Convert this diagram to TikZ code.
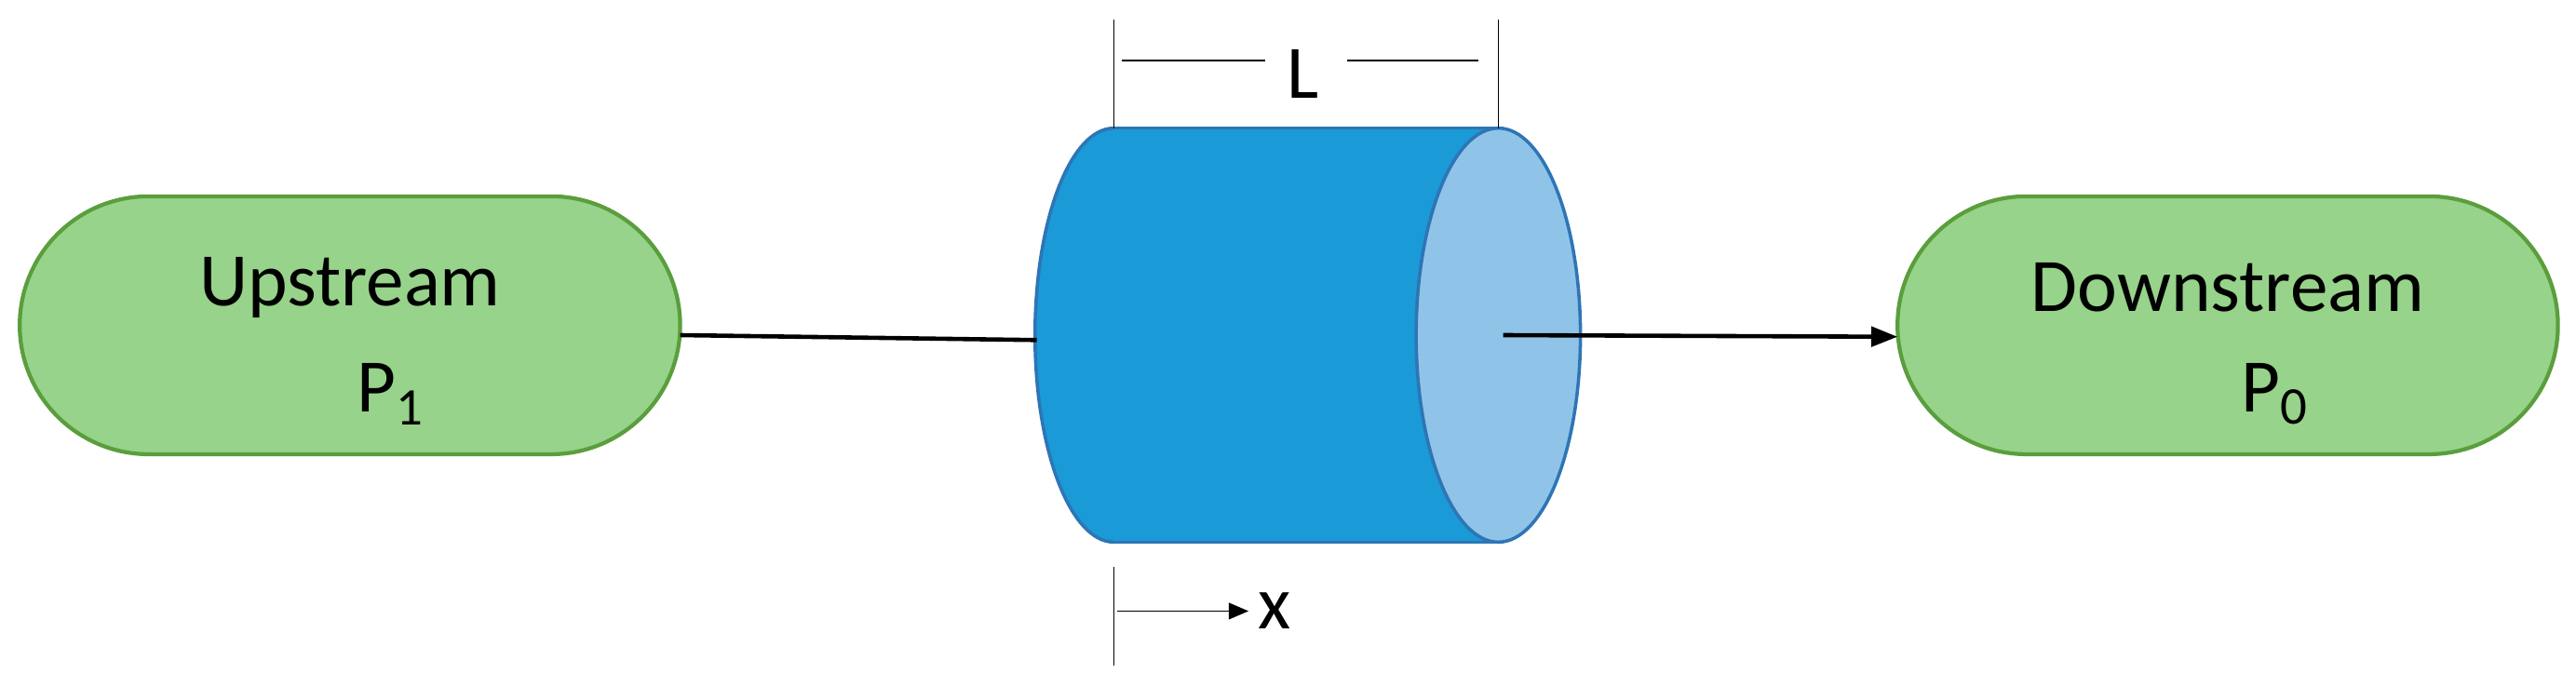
\documentclass[tikz,border=0pt]{standalone}
\usepackage{fontspec}
\setmainfont{Carlito}
\usetikzlibrary{shapes.misc,arrows.meta}
\definecolor{gfill}{HTML}{97D38A}
\definecolor{gline}{HTML}{5A9E3D}
\definecolor{cdark}{HTML}{1A9AD6}
\definecolor{clight}{HTML}{8FC4E8}
\definecolor{cline}{HTML}{2E75B6}
\tikzset{
 stad/.style={rounded rectangle, draw=gline, fill=gfill, line width=1.2pt, minimum width=201pt, minimum height=78.5pt, inner sep=0pt, outer sep=0pt},
 conn/.style={line width=1.3pt, black},
 dim/.style={line width=0.5pt, black},
 lbl/.style={font=\fontsize{23}{28}\selectfont, inner sep=0pt}
}
\begin{document}
\begin{tikzpicture}[x=0.5pt,y=-0.5pt]
\useasboundingbox (0,0) rectangle (1568,418);
\node[stad] (up) at (213,198) {};
\node[stad] (down) at (1356,198) {};
\node[lbl] (upt) at (213,175) {Upstream};
\node[lbl] (up1) at (238,240) {P\textsubscript{1}};
\node[lbl] (dnt) at (1356,175) {Downstream};
\node[lbl] (dn0) at (1385,240) {P\textsubscript{0}};
% cylinder
\fill[cdark] (678,78) -- (912,78) -- (912,330) -- (678,330) arc[start angle=270,end angle=90,x radius=48,y radius=-126] -- cycle;
\draw[cline,line width=1pt] (678,78) -- (912,78);
\draw[cline,line width=1pt] (678,330) -- (912,330);
\draw[cline,line width=1pt] (678,78) arc[start angle=90,end angle=270,x radius=48,y radius=-126];
\draw[cline,line width=1pt,fill=clight] (912,204) ellipse[x radius=50,y radius=126];
\coordinate (cin) at (631,207);
\coordinate (cout) at (915,204);
\draw[conn] (up.east |- 0,204) -- (cin);
\draw[conn,-{Triangle[length=8pt,width=6pt]}] (cout) -- (down.west |- 0,205);
% L dimension
\draw[dim] (678,12) -- (678,78);
\draw[dim] (912,12) -- (912,78);
\draw[dim] (683,37) -- (770,37);
\draw[dim] (820,37) -- (900,37);
\node[lbl] (L) at (793,45) {L};
% x arrow
\draw[dim] (678,345) -- (678,405);
\coordinate (xs) at (680,372);
\coordinate (xe) at (760,372);
\draw[dim,-{Triangle[length=6pt,width=5pt]}] (xs) -- (xe);
\node[lbl] (xl) at (776,372) {x};
\end{tikzpicture}
\end{document}
